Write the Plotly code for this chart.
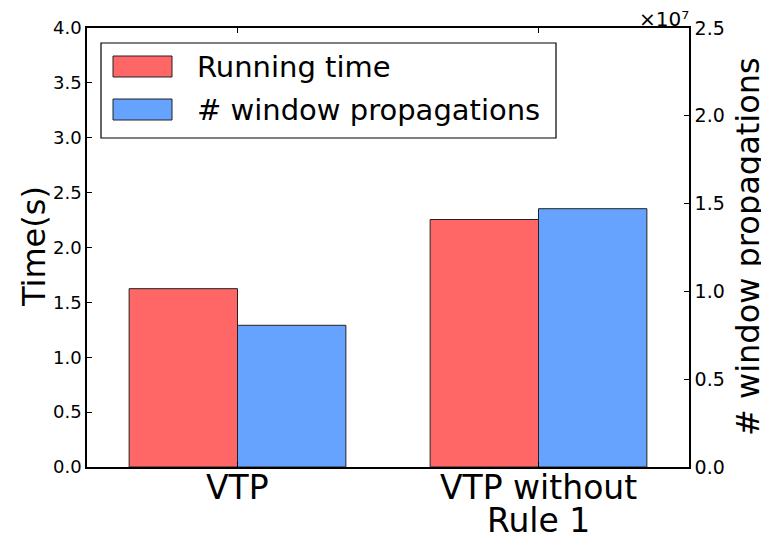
import plotly.graph_objects as go

categories = ["VTP", "VTP without<br>Rule 1"]
running_time = [1.625, 2.255]
window_props = [8.07e6, 1.471e7]
left_ticks = [0.0, 0.5, 1.0, 1.5, 2.0, 2.5, 3.0, 3.5, 4.0]
right_ticks = [0, 0.5e7, 1.0e7, 1.5e7, 2.0e7, 2.5e7]
right_ticktext = ["0.0", "0.5", "1.0", "1.5", "2.0", "2.5"]

RED = "#ff6666"
BLUE = "#66a3ff"
FONT = "DejaVu Sans"
W = 0.36

fig = go.Figure()
fig.add_trace(go.Bar(x=categories, y=running_time, width=W, offset=-W,
                     marker=dict(color=RED, line=dict(color="#222222", width=1)),
                     name="Running time", yaxis="y", showlegend=False))
fig.add_trace(go.Bar(x=categories, y=window_props, width=W, offset=0,
                     marker=dict(color=BLUE, line=dict(color="#222222", width=1)),
                     name="# window propagations", yaxis="y2", showlegend=False))

# page offset of the figure (body margin)
OFF = 8
FW, FH = 769 - OFF, 541 - OFF
L, R, T, B = 87, 689, 28, 467  # plot area in page pixels
def px(x):
    return (x - L) / (R - L)
def py(y):
    return (B - y) / (B - T)

shapes = [
    dict(type="rect", xref="paper", yref="paper", x0=px(101), x1=px(556), y0=py(138), y1=py(43),
         line=dict(color="black", width=1.2), fillcolor="white", layer="above"),
    dict(type="rect", xref="paper", yref="paper", x0=px(113), x1=px(172), y0=py(77), y1=py(56),
         line=dict(color="#222222", width=1), fillcolor=RED, layer="above"),
    dict(type="rect", xref="paper", yref="paper", x0=px(113), x1=px(172), y0=py(120), y1=py(99),
         line=dict(color="#222222", width=1), fillcolor=BLUE, layer="above"),
]
annotations = [
    dict(text="Running time", xref="paper", yref="paper", x=px(195), y=py(67), xanchor="left",
         yanchor="middle", showarrow=False, font=dict(family=FONT, size=29, color="black")),
    dict(text="# window propagations", xref="paper", yref="paper", x=px(195), y=py(110), xanchor="left",
         yanchor="middle", showarrow=False, font=dict(family=FONT, size=29, color="black")),
    dict(text="×10⁷", xref="paper", yref="paper", x=px(689), y=py(19), xanchor="right",
         yanchor="middle", xshift=2, showarrow=False, font=dict(family=FONT, size=20, color="black")),
    dict(text="Time(s)", xref="paper", yref="paper", x=px(34), y=py(247), xanchor="center",
         yanchor="middle", textangle=-90, showarrow=False, font=dict(family=FONT, size=32, color="black")),
    dict(text="# window propagations", xref="paper", yref="paper", x=px(748), y=py(247), xanchor="center",
         yanchor="middle", textangle=-90, showarrow=False, font=dict(family=FONT, size=32, color="black")),
]
# category labels, one annotation per line, placed through the category axis
for cat in categories:
    for i, line in enumerate(cat.split("<br>")):
        annotations.append(dict(text=line, xref="x", yref="y", x=cat, y=0, xanchor="center",
                                yanchor="middle", yshift=-20 - 33 * i, showarrow=False,
                                font=dict(family=FONT, size=33, color="black")))

fig.update_layout(
    width=FW, height=FH,
    margin=dict(l=L - OFF, r=FW - (R - OFF), t=T - OFF, b=FH - (B - OFF), pad=0),
    paper_bgcolor="white", plot_bgcolor="white",
    barmode="overlay",
    font=dict(family=FONT, color="black"),
    shapes=shapes, annotations=annotations,
    xaxis=dict(type="category", range=[-0.5, 1.5], showline=True, linecolor="black", linewidth=1.5,
               mirror="ticks", ticks="inside", ticklen=5, tickcolor="black", automargin=False,
               showticklabels=False, showgrid=False, zeroline=False),
    yaxis=dict(range=[0, 4.0], tickvals=left_ticks, ticktext=[f"{v:.1f}" for v in left_ticks],
               showline=True, linecolor="black", linewidth=1.5, ticks="inside", ticklen=5,
               automargin=False,
               tickcolor="black", tickfont=dict(family=FONT, size=18), showgrid=False, zeroline=False),
    yaxis2=dict(range=[0, 2.5e7], tickvals=right_ticks, ticktext=right_ticktext, overlaying="y",
                side="right", showline=True, linecolor="black", linewidth=1.5, ticks="inside",
                ticklen=5, tickcolor="black", tickfont=dict(family=FONT, size=19), showgrid=False,
                automargin=False, zeroline=False),
)

fig.write_html("out.html")
